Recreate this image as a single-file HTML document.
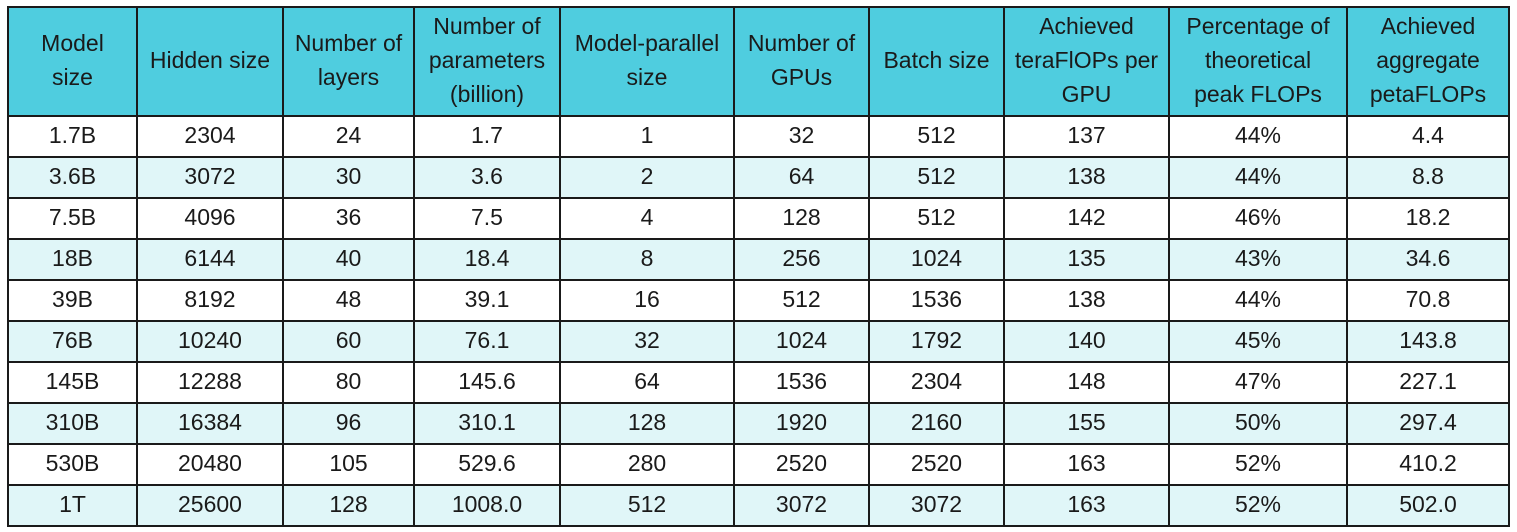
<!DOCTYPE html>
<html><head><meta charset="utf-8"><style>
body{margin:0;width:1517px;height:532px;background:#fff;font-family:"Liberation Sans",sans-serif;color:#1a1a1a;position:relative;overflow:hidden}
.c{position:absolute;display:flex;align-items:center;justify-content:center;text-align:center;box-sizing:border-box;border-right:2px solid #1a1a1a;border-bottom:2px solid #1a1a1a;font-size:23px;line-height:34px;white-space:nowrap;padding-bottom:3px}
.h{background:#4fcddf}
.w{background:#fff}
.b{background:#e0f6f8}
</style></head><body>
<div style="position:absolute;left:7px;top:6px;width:2px;height:521px;background:#1a1a1a"></div>
<div style="position:absolute;left:7px;top:6px;width:1503px;height:2px;background:#1a1a1a"></div>
<div id="t"></div>
<script>
var xs=[9,138,284,415,561,735,870,1005,1170,1348,1510];
var hdr=["Model<br>size","Hidden size","Number of<br>layers","Number of<br>parameters<br>(billion)","Model-parallel<br>size","Number of<br>GPUs","Batch size","Achieved<br>teraFlOPs per<br>GPU","Percentage of<br>theoretical<br>peak FLOPs","Achieved<br>aggregate<br>petaFLOPs"];
var rows=[
["1.7B","2304","24","1.7","1","32","512","137","44%","4.4"],
["3.6B","3072","30","3.6","2","64","512","138","44%","8.8"],
["7.5B","4096","36","7.5","4","128","512","142","46%","18.2"],
["18B","6144","40","18.4","8","256","1024","135","43%","34.6"],
["39B","8192","48","39.1","16","512","1536","138","44%","70.8"],
["76B","10240","60","76.1","32","1024","1792","140","45%","143.8"],
["145B","12288","80","145.6","64","1536","2304","148","47%","227.1"],
["310B","16384","96","310.1","128","1920","2160","155","50%","297.4"],
["530B","20480","105","529.6","280","2520","2520","163","52%","410.2"],
["1T","25600","128","1008.0","512","3072","3072","163","52%","502.0"]];
var h="";
function cell(x0,x1,y0,y1,cls,txt){h+='<div class="c '+cls+'" style="left:'+x0+'px;top:'+y0+'px;width:'+(x1-x0)+'px;height:'+(y1-y0)+'px">'+txt+'</div>';}
for(var i=0;i<10;i++)cell(xs[i],xs[i+1],8,117,"h",hdr[i]);
for(var r=0;r<10;r++){var y0=117+r*41;for(var i=0;i<10;i++)cell(xs[i],xs[i+1],y0,y0+41,r%2?"b":"w",rows[r][i]);}
document.getElementById("t").innerHTML=h;
</script>
</body></html>
